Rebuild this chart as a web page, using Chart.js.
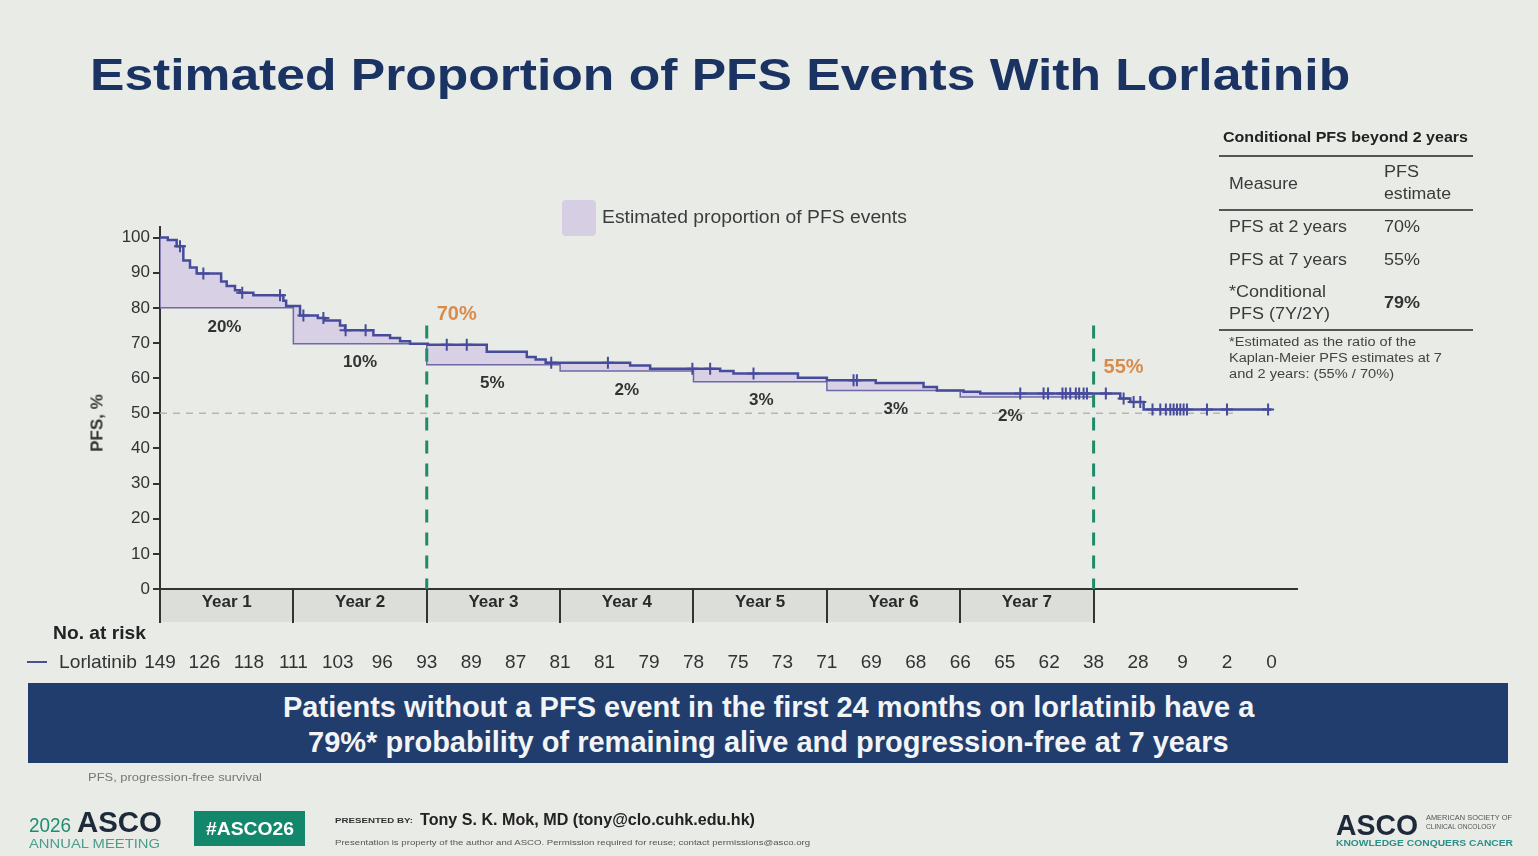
<!DOCTYPE html>
<html>
<head>
<meta charset="utf-8">
<title>Estimated Proportion of PFS Events With Lorlatinib</title>
<script src="https://cdn.jsdelivr.net/npm/chart.js@4.4.1/dist/chart.umd.min.js"></script>
<style>
  html, body { margin: 0; padding: 0; }
  body { width: 1538px; height: 856px; overflow: hidden; background: #e9ebe7; position: relative; font-family: "Liberation Sans", Arial, sans-serif; }
  #pfsChart { position: absolute; left: 0; top: 0; }
  .t { position: absolute; line-height: 1; white-space: nowrap; transform-origin: 0 0; color: #3a3a3a; }
  .b { font-weight: bold; }
  .rule { position: absolute; background: #555; }
</style>
</head>
<body>

<canvas id="pfsChart" width="1538" height="856"></canvas>

<!-- title -->
<div class="t b" style="left:90px; top:52px; font-size:45px; color:#1a3363;" data-w="1260">Estimated Proportion of PFS Events With Lorlatinib</div>

<!-- legend -->
<div style="position:absolute; left:562px; top:200px; width:34px; height:36px; background:#d6cfe3; border-radius:4px;"></div>
<div class="t" style="left:602px; top:208px; font-size:18px; color:#3c3c3c;" data-w="305">Estimated proportion of PFS events</div>

<!-- y title -->
<div class="t b" style="left:97px; top:423px; font-size:17px; color:#333; transform-origin:50% 50%; transform:translate(-50%,-50%) rotate(-90deg);">PFS, %</div>

<!-- conditional PFS table -->
<div class="t b" style="left:1223px; top:129px; font-size:15px; color:#222;" data-w="245">Conditional PFS beyond 2 years</div>
<div class="rule" style="left:1219px; top:155px; width:254px; height:2px;"></div>
<div class="t" style="left:1229px; top:176px; font-size:16px;" data-w="69">Measure</div>
<div class="t" style="left:1384px; top:164px; font-size:16px;" data-w="35">PFS</div>
<div class="t" style="left:1384px; top:186px; font-size:16px;" data-w="67">estimate</div>
<div class="rule" style="left:1219px; top:209px; width:254px; height:2px;"></div>
<div class="t" style="left:1229px; top:219px; font-size:16px;" data-w="118">PFS at 2 years</div>
<div class="t" style="left:1384px; top:219px; font-size:16px;" data-w="36">70%</div>
<div class="t" style="left:1229px; top:252px; font-size:16px;" data-w="118">PFS at 7 years</div>
<div class="t" style="left:1384px; top:252px; font-size:16px;" data-w="36">55%</div>
<div class="t" style="left:1229px; top:284px; font-size:16px;" data-w="97">*Conditional</div>
<div class="t" style="left:1229px; top:306px; font-size:16px;" data-w="101">PFS (7Y/2Y)</div>
<div class="t b" style="left:1384px; top:295px; font-size:16px; color:#333;" data-w="36">79%</div>
<div class="rule" style="left:1219px; top:329px; width:254px; height:2px;"></div>
<div class="t" style="left:1229px; top:336px; font-size:12.5px; color:#444;" data-w="187">*Estimated as the ratio of the</div>
<div class="t" style="left:1229px; top:352px; font-size:12.5px; color:#444;" data-w="213">Kaplan-Meier PFS estimates at 7</div>
<div class="t" style="left:1229px; top:368px; font-size:12.5px; color:#444;" data-w="165">and 2 years: (55% / 70%)</div>

<!-- number at risk -->
<div class="t b" style="left:53px; top:623px; font-size:19px; color:#222;" data-w="93">No. at risk</div>
<div style="position:absolute; left:27px; top:661px; width:20px; height:2px; background:#4a4f9a;"></div>
<div class="t" style="left:59px; top:652px; font-size:19px; color:#333;" data-w="78">Lorlatinib</div>

<!-- banner -->
<div style="position:absolute; left:28px; top:683px; width:1480px; height:80px; background:#213d6d;"></div>
<div class="t b" style="left:283px; top:692px; font-size:30px; color:#f2f4f6;" data-w="971">Patients without a PFS event in the first 24 months on lorlatinib have a</div>
<div class="t b" style="left:308px; top:727px; font-size:30px; color:#f2f4f6;" data-w="921">79%* probability of remaining alive and progression-free at 7 years</div>

<div class="t" style="left:88px; top:772px; font-size:11px; color:#777;" data-w="174">PFS, progression-free survival</div>

<!-- footer -->
<div class="t" style="left:29px; top:815px; font-size:20px; color:#1f8c73;" data-w="42">2026</div>
<div class="t b" style="left:77px; top:808px; font-size:29px; color:#1e2a3a;" data-w="85">ASCO</div>
<div class="t" style="left:29px; top:837px; font-size:13px; color:#4a9d8c;" data-w="131">ANNUAL MEETING</div>
<div style="position:absolute; left:194px; top:811px; width:111px; height:35px; background:#12876b;"></div>
<div class="t b" style="left:206px; top:820px; font-size:18px; color:#fff;" data-w="88">#ASCO26</div>
<div class="t b" style="left:335px; top:817px; font-size:8px; color:#333;" data-w="78">PRESENTED BY:</div>
<div class="t b" style="left:420px; top:812px; font-size:16px; color:#222;" data-w="335">Tony S. K. Mok, MD (tony@clo.cuhk.edu.hk)</div>
<div class="t" style="left:335px; top:839px; font-size:8px; color:#555;" data-w="475">Presentation is property of the author and ASCO. Permission required for reuse; contact permissions@asco.org</div>
<div class="t b" style="left:1336px; top:810px; font-size:30px; color:#1e2a3a;" data-w="82">ASCO</div>
<div class="t" style="left:1426px; top:814px; font-size:7px; color:#555;" data-w="86">AMERICAN SOCIETY OF</div>
<div class="t" style="left:1426px; top:823px; font-size:7px; color:#555;" data-w="70">CLINICAL ONCOLOGY</div>
<div class="t b" style="left:1336px; top:838px; font-size:9.5px; color:#2a8f86;" data-w="177">KNOWLEDGE CONQUERS CANCER</div>

<script>
// Kaplan-Meier PFS curve (months, %)
const kmMonths = [0, 0.7, 1.5, 2.1, 2.7, 3.3, 5.5, 6.0, 6.75, 7.2, 8.4, 11.1, 11.35, 12.6, 14.2, 14.85, 16.2, 16.65, 19.2, 20.7, 21.6, 22.5, 24.1, 29.4, 33.0, 33.8, 34.7, 42.3, 44.1, 50.4, 51.6, 57.4, 60.0, 64.4, 68.7, 69.9, 72.3, 73.8, 86.4, 87.3, 88.5, 100.0];
const kmPFS = [100, 99.3, 97.5, 93.5, 91.5, 89.8, 87.5, 86.2, 85, 84.3, 83.6, 82, 80.5, 77.8, 77.1, 76.4, 75, 73.6, 72.2, 71.4, 70.5, 69.8, 69.5, 67.5, 66, 65.3, 64.4, 63.6, 62.7, 62, 61.3, 60.1, 59.4, 58.6, 57.5, 56.5, 56.1, 55.6, 54.2, 53.2, 51.1, 51.1];

// censored patients (months)
const censorMonths = [1.8, 3.9, 7.4, 10.8, 12.9, 14.7, 16.7, 18.5, 25.8, 27.6, 35.2, 40.3, 47.9, 49.5, 53.4, 62.4, 62.7, 77.4, 79.5, 79.9, 81.2, 81.5, 81.9, 82.4, 82.7, 83.1, 83.4, 85.1, 86.7, 87.6, 88.2, 89.3, 90.0, 90.5, 90.9, 91.2, 91.5, 91.8, 92.1, 92.4, 94.2, 96.0, 99.7];

// yearly shaded blocks
const yearStarts = [0, 12, 24, 36, 48, 60, 72, 84];
const yearNames = ['Year 1', 'Year 2', 'Year 3', 'Year 4', 'Year 5', 'Year 6', 'Year 7'];
const yearFloor = [80, 69.8, 63.8, 62, 59, 56.5, 54.6];
const eventPct = ['20%', '10%', '5%', '2%', '3%', '3%', '2%'];
const eventLabelMonth = [5.8, 18, 29.9, 42, 54.1, 66.2, 76.5];

// landmarks
const landmarkMonths = [24, 84];
const landmarkPFS = [70, 55];
const landmarkText = ['70%', '55%'];

// number at risk
const riskMonths = [0, 4, 8, 12, 16, 20, 24, 28, 32, 36, 40, 44, 48, 52, 56, 60, 64, 68, 72, 76, 80, 84, 88, 92, 96, 100];
const riskCounts = [149, 126, 118, 111, 103, 96, 93, 89, 87, 81, 81, 79, 78, 75, 73, 71, 69, 68, 66, 65, 62, 38, 28, 9, 2, 0];

const yTicks = [0, 10, 20, 30, 40, 50, 60, 70, 80, 90, 100];

const curveColor = '#464b9c';
const fontFamily = '"Liberation Sans", Arial, sans-serif';

function pfsAt(m) {
    let v = kmPFS[0];
    for (let i = 0; i < kmMonths.length; i++) {
        if (kmMonths[i] <= m) v = kmPFS[i];
    }
    return v;
}

// shaded area between curve and the end-of-year level
const yearFills = yearNames.map(function(name, i) {
    const a = yearStarts[i], b = yearStarts[i + 1];
    const pts = [{x: a, y: pfsAt(a)}];
    kmMonths.forEach(function(m, j) {
        if (m > a && m < b) pts.push({x: m, y: kmPFS[j]});
    });
    pts.push({x: b, y: pfsAt(b)});
    return {
        data: pts, stepped: 'before', pointRadius: 0, borderWidth: 1,
        borderColor: 'rgba(0,0,0,0)', backgroundColor: '#d8d1e5',
        fill: {value: yearFloor[i]}, order: 7
    };
});

// outline of each block (left edge + floor)
const yearEdges = yearNames.map(function(name, i) {
    return {
        data: [
            {x: yearStarts[i], y: pfsAt(yearStarts[i])},
            {x: yearStarts[i], y: yearFloor[i]},
            {x: yearStarts[i + 1], y: yearFloor[i]}
        ],
        borderColor: '#6d6aa4', borderWidth: 1.5, pointRadius: 0, fill: false, order: 5
    };
});

const landmarkLines = landmarkMonths.map(function(m) {
    return {
        data: [{x: m, y: 75}, {x: m, y: 0}],
        borderColor: '#1f8b6b', borderWidth: 3, borderDash: [13, 10],
        pointRadius: 0, fill: false, order: 3
    };
});

const halfLine = {
    data: [{x: 0, y: 50}, {x: 97, y: 50}],
    borderColor: '#b3b7b3', borderWidth: 1.5, borderDash: [7, 6],
    pointRadius: 0, fill: false, order: 8
};

const kmLine = {
    data: kmMonths.map(function(m, i) { return {x: m, y: kmPFS[i]}; }),
    stepped: 'before', borderColor: curveColor, borderWidth: 2.5,
    pointRadius: 0, fill: false, order: 2
};

const censorMarks = {
    data: censorMonths.map(function(m) { return {x: m, y: pfsAt(m)}; }),
    showLine: false, pointStyle: 'cross', pointRadius: 6,
    pointBorderWidth: 2, pointBorderColor: curveColor, fill: false, order: 1
};

const slideText = {
    id: 'slideText',
    beforeDraw: function(chart) {
        const ctx = chart.ctx, area = chart.chartArea, x = chart.scales.x;
        ctx.save();
        ctx.fillStyle = '#dcdeda';
        const x0 = x.getPixelForValue(yearStarts[0]);
        const x1 = x.getPixelForValue(yearStarts[yearStarts.length - 1]);
        ctx.fillRect(x0, area.bottom, x1 - x0, 33);
        ctx.restore();
    },
    afterDraw: function(chart) {
        const ctx = chart.ctx, area = chart.chartArea, x = chart.scales.x, y = chart.scales.y;
        ctx.save();
        ctx.textAlign = 'center';
        ctx.textBaseline = 'middle';

        // event proportions per year
        ctx.fillStyle = '#333';
        ctx.font = 'bold 17px ' + fontFamily;
        eventPct.forEach(function(txt, i) {
            ctx.fillText(txt, x.getPixelForValue(eventLabelMonth[i]), y.getPixelForValue(yearFloor[i]) + 19);
        });

        // landmark values
        ctx.fillStyle = '#d98b4b';
        ctx.font = 'bold 20px ' + fontFamily;
        ctx.textAlign = 'left';
        landmarkText.forEach(function(txt, i) {
            ctx.fillText(txt, x.getPixelForValue(landmarkMonths[i]) + 10, y.getPixelForValue(landmarkPFS[i]) - 28);
        });

        // year cells
        ctx.textAlign = 'center';
        ctx.fillStyle = '#2a2a2a';
        ctx.font = 'bold 17px ' + fontFamily;
        yearNames.forEach(function(name, i) {
            const mid = (yearStarts[i] + yearStarts[i + 1]) / 2;
            ctx.fillText(name, x.getPixelForValue(mid), area.bottom + 13);
        });

        // number at risk
        ctx.textBaseline = 'alphabetic';
        ctx.fillStyle = '#333';
        ctx.font = '19px ' + fontFamily;
        riskCounts.forEach(function(n, i) {
            ctx.fillText(String(n), x.getPixelForValue(riskMonths[i]), 668);
        });
        ctx.restore();
    }
};

new Chart(document.getElementById('pfsChart'), {
    type: 'line',
    data: {
        datasets: [censorMarks, kmLine].concat(landmarkLines, yearEdges, yearFills, [halfLine])
    },
    options: {
        responsive: false,
        animation: false,
        events: [],
        layout: { padding: { left: 110, right: 241, top: 227, bottom: 233 } },
        plugins: {
            legend: { display: false },
            tooltip: { enabled: false }
        },
        scales: {
            x: {
                type: 'linear',
                min: 0,
                max: 102.3,
                afterBuildTicks: function(s) { s.ticks = yearStarts.map(function(v) { return {value: v}; }); },
                afterFit: function(s) { s.height = 34; },
                ticks: { display: false },
                grid: { drawOnChartArea: false, drawTicks: true, tickLength: 34, color: '#333', lineWidth: 2 },
                border: { color: '#333', width: 2 }
            },
            y: {
                min: 0,
                max: 103,
                afterBuildTicks: function(s) { s.ticks = yTicks.map(function(v) { return {value: v}; }); },
                afterFit: function(s) { s.width = 50; },
                ticks: { color: '#333', padding: 3, font: { size: 17, family: fontFamily } },
                grid: { drawOnChartArea: false, drawTicks: true, tickLength: 7, color: '#333', lineWidth: 2 },
                border: { color: '#333', width: 2 }
            }
        }
    },
    plugins: [slideText]
});

// stretch slide texts to the widths measured on the slide
document.querySelectorAll('[data-w]').forEach(function(el) {
    const w = el.getBoundingClientRect().width;
    if (w > 0) el.style.transform = 'scaleX(' + (parseFloat(el.dataset.w) / w).toFixed(3) + ')';
});
</script>
</body>
</html>
